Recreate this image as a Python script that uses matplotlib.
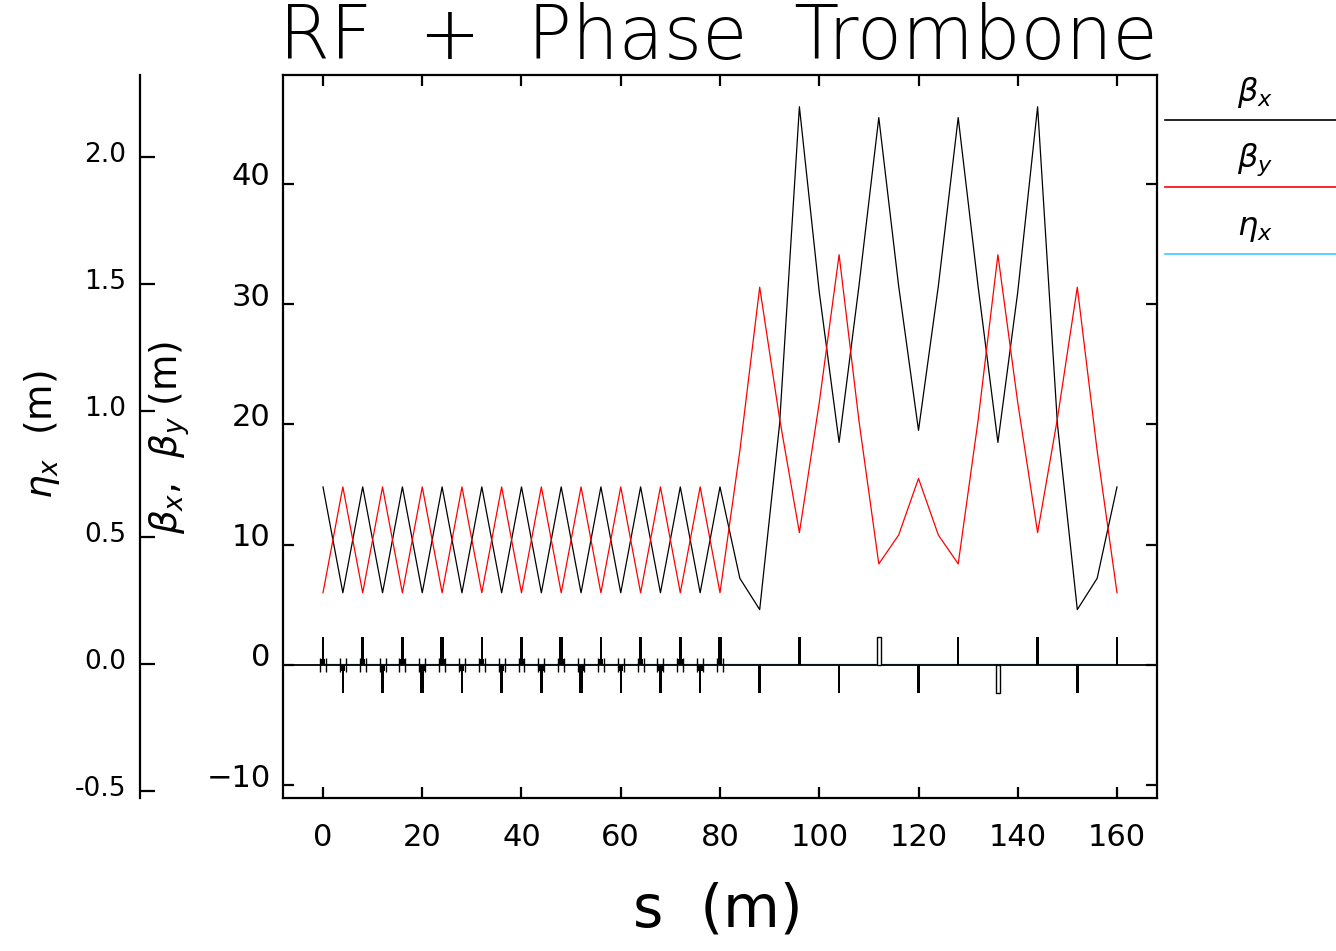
import numpy as np
import matplotlib
matplotlib.use("Agg")
import matplotlib.pyplot as plt
from matplotlib.lines import Line2D
import matplotlib.transforms as mtransforms

# posiciones s (m) donde se dan las funciones de Twiss
s_pos = [0, 4, 8, 12, 16, 20, 24, 28, 32, 36, 40, 44, 48, 52, 56, 60, 64, 68, 72, 76,
         80, 84, 88, 92, 96, 100, 104, 108, 112, 116, 120, 124, 128, 132, 136, 140,
         144, 148, 152, 156, 160]
beta_x = [14.8, 6.0, 14.8, 6.0, 14.8, 6.0, 14.8, 6.0, 14.8, 6.0, 14.8, 6.0, 14.8, 6.0,
          14.8, 6.0, 14.8, 6.0, 14.8, 6.0,
          14.8, 7.2, 4.6, 20.0, 46.4, 31.0, 18.5, 31.5, 45.5, 31.5, 19.5, 31.5, 45.5,
          31.5, 18.5, 31.0, 46.4, 20.0, 4.6, 7.2, 14.8]
beta_y = [6.0, 14.8, 6.0, 14.8, 6.0, 14.8, 6.0, 14.8, 6.0, 14.8, 6.0, 14.8, 6.0, 14.8,
          6.0, 14.8, 6.0, 14.8, 6.0, 14.8,
          6.0, 17.8, 31.4, 20.5, 11.0, 21.8, 34.1, 20.3, 8.4, 10.8, 15.5, 10.8, 8.4,
          20.3, 34.1, 21.8, 11.0, 20.5, 31.4, 17.8, 6.0]
eta_s = [0, 160]
eta_x = [0.0, 0.0]

# red magnética: cuadrupolos (+1 focaliza, -1 desfocaliza)
quad_s = [0, 4, 8, 12, 16, 20, 24, 28, 32, 36, 40, 44, 48, 52, 56, 60, 64, 68, 72, 76,
          80, 88, 96, 104, 112, 120, 128, 136, 144, 152, 160]
quad_k = [1, -1, 1, -1, 1, -1, 1, -1, 1, -1, 1, -1, 1, -1, 1, -1, 1, -1, 1, -1,
          1, -1, 1, -1, 1, -1, 1, -1, 1, -1, 1]
quad_thick = [20, 24, 48, 52, 80]
quad_hollow = [112, 136]

x_ticks = [0, 20, 40, 60, 80, 100, 120, 140, 160]
beta_ticks = [-10, 0, 10, 20, 30, 40]
eta_ticks = [-0.5, 0.0, 0.5, 1.0, 1.5, 2.0]

W, H = 1336, 951
fig = plt.figure(figsize=(W / 100, H / 100), dpi=100)
ax = fig.add_axes([283 / W, 1 - 798 / H, 874 / W, 723 / H])
ax2 = ax.twinx()
ax.set_zorder(ax2.get_zorder() + 1)
ax.patch.set_visible(False)

# dispersion (queda debajo de la linea base)
ax2.plot(eta_s, eta_x, color='#40c8ff', lw=1.0)
ax2.set_ylim(-0.527, 2.323)

# funciones beta
ax.plot(s_pos, beta_x, color='black', lw=0.9)
ax.plot(s_pos, beta_y, color='red', lw=0.9)

# linea base y elementos
ax.axhline(0, color='black', lw=1.3, zorder=3)
for s, k in zip(quad_s, quad_k):
    h = 2.3 * k
    if s in quad_hollow:
        ax.bar(s, h, width=0.8, color='white', edgecolor='black', lw=1.0, zorder=4)
    else:
        w = 0.75 if s in quad_thick else 0.5
        ax.bar(s, h, width=w, color='black', lw=0, zorder=4)
    if s <= 80:
        ax.vlines([s - 0.6, s + 0.6], -0.6, 0.6, color='black', lw=1.0, zorder=4)
        ax.bar(s, 0.5 * k, width=1.0, color='black', lw=0, zorder=4)

ax.set_xlim(-8.06, 168.06)
ax.set_ylim(-11.06, 49.04)
ax.set_xticks(x_ticks)
ax.set_yticks(beta_ticks)
ax.tick_params(axis='both', direction='in', width=1.6, length=8,
               top=True, right=True, labelright=False, labeltop=False)
ax.tick_params(axis='x', labelsize=22, pad=18)
ax.tick_params(axis='y', labelsize=22, pad=9)
for sp in ax.spines.values():
    sp.set_linewidth(1.6)

# eje de dispersion a la izquierda
ax2.spines['right'].set_visible(False)
ax2.spines['top'].set_visible(False)
ax2.spines['bottom'].set_visible(False)
ax2.spines['left'].set_visible(True)
ax2.spines['left'].set_position(('axes', (140 - 283) / 874))
ax2.spines['left'].set_linewidth(1.6)
ax2.yaxis.set_ticks_position('left')
ax2.yaxis.set_label_position('left')
ax2.set_yticks(eta_ticks)
ax2.set_yticklabels(['-0.5', '0.0', '0.5', '1.0', '1.5', '2.0'])
ax2.tick_params(axis='y', direction='in', width=1.6, length=11, labelsize=19, pad=10)

up = mtransforms.ScaledTranslation(0, 10 / 100, fig.dpi_scale_trans)
for lab in ax.get_yticklabels():
    lab.set_transform(lab.get_transform() + up)
up2 = mtransforms.ScaledTranslation(0, 5 / 100, fig.dpi_scale_trans)
for lab in ax2.get_yticklabels():
    lab.set_transform(lab.get_transform() + up2)

# titulos y etiquetas
fig.text(718 / W, 1 - 38 / H, 'RF  +  Phase  Trombone', ha='center', va='center',
         fontsize=53, fontweight='light')
fig.text(718 / W, 1 - 910 / H, 's  (m)', ha='center', va='center', fontsize=42)
fig.text(42 / W, 1 - 435 / H, r'$\eta_x$  (m)', ha='center', va='center',
         rotation=90, fontsize=27)
fig.text(170 / W, 1 - 437 / H, r'$\beta_x$,  $\beta_y$ (m)', ha='center', va='center',
         rotation=90, fontsize=27)

# leyenda a la derecha
leg = [(r'$\beta_x$', 'black', 92, 120), (r'$\beta_y$', 'red', 160, 187),
       (r'$\eta_x$', '#40c8ff', 228, 254)]
for txt, col, ty, ly in leg:
    fig.text(1255 / W, 1 - ty / H, txt, ha='center', va='center', fontsize=23)
    fig.add_artist(Line2D([1165 / W, 1.0], [1 - ly / H, 1 - ly / H], color=col, lw=1.2,
                          transform=fig.transFigure))

fig.savefig('out.png', dpi=100)
